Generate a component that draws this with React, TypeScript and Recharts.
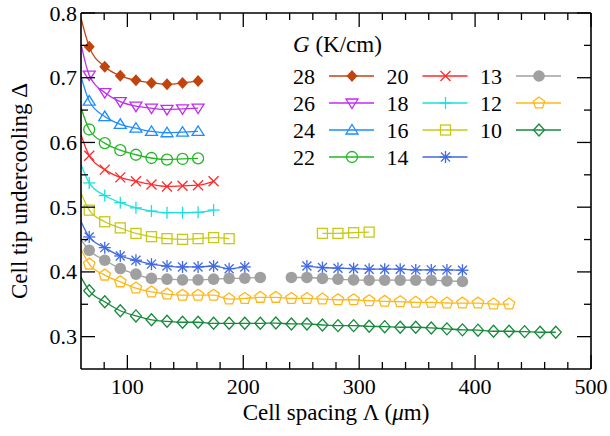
import React from 'react';
import { LineChart, Line, XAxis, YAxis, Legend } from 'recharts';

const FONT = 'Liberation Serif, Times New Roman, Times, serif';
const txt = { fontFamily: FONT };

// cell spacing values used by the simulations (um)
const lambda = [
  67.1, 80.5, 93.9, 107.4, 120.8, 134.2, 147.6, 161.0, 174.4, 187.8, 201.3, 214.7, 228.1, 241.5, 254.9, 268.3,
  281.7, 295.2, 308.6, 322.0, 335.4, 348.8, 362.2, 375.7, 389.1, 402.5, 415.9, 429.3, 442.7, 456.1, 469.6,
];

const xTicks = [80, 100, 120, 140, 160, 180, 200, 220, 240, 260, 280, 300, 320, 340, 360, 380, 400, 420, 440, 460, 480, 500];
const yTicks = [0.3, 0.35, 0.4, 0.45, 0.5, 0.55, 0.6, 0.65, 0.7, 0.75, 0.8];

// fitted curves start at the left edge of the plot
const fitStartX = 60;

// tip undercooling per gradient G (K/cm)
const g28 = [0.748, 0.717, 0.703, 0.696, 0.692, 0.69, 0.692, 0.695];
const g26 = [0.704, 0.677, 0.663, 0.656, 0.653, 0.651, 0.652, 0.653];
const g24 = [0.664, 0.64, 0.628, 0.622, 0.617, 0.615, 0.616, 0.617];
const g22 = [0.62, 0.599, 0.588, 0.581, 0.576, 0.5735, 0.5745, 0.5755];
const g20 = [0.5795, 0.558, 0.546, 0.54, 0.535, 0.532, 0.533, 0.534, 0.54];
const g18 = [0.5375, 0.518, 0.507, 0.499, 0.494, 0.4915, 0.4915, 0.492, 0.4955];
const g16a = [0.4954, 0.4775, 0.468, 0.4595, 0.4545, 0.4514, 0.4503, 0.4514, 0.453, 0.4514];
const g16b = [0.4595, 0.4595, 0.4606, 0.4615];
const g14a = [0.454, 0.4375, 0.4246, 0.418, 0.412, 0.409, 0.4077, 0.4077, 0.409, 0.405, 0.4077];
const g14b = [0.409, 0.4068, 0.4057, 0.4052, 0.4042, 0.4042, 0.4042, 0.4031, 0.4031, 0.4031, 0.4026];
const g13a = [0.4334, 0.418, 0.4052, 0.3965, 0.39, 0.3888, 0.3877, 0.3877, 0.3888, 0.39, 0.3903, 0.3914];
const g13b = [0.3914, 0.3914, 0.39, 0.3888, 0.3877, 0.3872, 0.3872, 0.3872, 0.3872, 0.3872, 0.386, 0.3852];
const g12 = [
  0.412, 0.395, 0.3846, 0.375, 0.369, 0.3657, 0.364, 0.364, 0.364, 0.358, 0.359, 0.3606, 0.3606, 0.359,
  0.359, 0.358, 0.357, 0.357, 0.3555, 0.3545, 0.354, 0.353, 0.353, 0.352, 0.3518, 0.3518, 0.3503, 0.3503,
];
const g10 = [
  0.3708, 0.3538, 0.34, 0.332, 0.326, 0.3237, 0.3222, 0.3222, 0.3206, 0.3206, 0.3206, 0.3206, 0.321, 0.3196,
  0.3196, 0.318, 0.317, 0.317, 0.316, 0.3154, 0.3145, 0.3145, 0.3134, 0.312, 0.3105, 0.31, 0.3083, 0.3083,
  0.3077, 0.3068, 0.3068,
];

type Pt = { x: number; y: number; fit?: boolean };

// first = index into lambda, start = value of the fit curve at the left edge
const seg = (first: number, values: number[], start?: number): Pt[] => {
  const pts = values.map((y, i) => ({ x: lambda[first + i], y }));
  return start === undefined ? pts : [{ x: fitStartX, y: start, fit: true }, ...pts];
};

const series = [
  { name: '28', color: '#c1440e', shape: 'diamondFilled', parts: [seg(0, g28, 0.792)] },
  { name: '26', color: '#c02cf0', shape: 'triDown', parts: [seg(0, g26, 0.752)] },
  { name: '24', color: '#1e8cff', shape: 'triUp', parts: [seg(0, g24, 0.702)] },
  { name: '22', color: '#22b822', shape: 'circle', parts: [seg(0, g22, 0.654)] },
  { name: '20', color: '#ff2a2a', shape: 'cross', parts: [seg(0, g20, 0.612)] },
  { name: '18', color: '#1ae0e0', shape: 'plus', parts: [seg(0, g18, 0.566)] },
  { name: '16', color: '#c8c818', shape: 'square', parts: [seg(0, g16a, 0.522), seg(15, g16b)] },
  { name: '14', color: '#4169e1', shape: 'star', parts: [seg(0, g14a, 0.478), seg(14, g14b)] },
  { name: '13', color: '#a0a0a0', shape: 'circleFilled', parts: [seg(0, g13a, 0.45), seg(13, g13b)] },
  { name: '12', color: '#ffb71a', shape: 'pentagon', parts: [seg(0, g12, 0.435)] },
  { name: '10', color: '#178a3c', shape: 'diamond', parts: [seg(0, g10, 0.392)] },
];

const legendCols = [['28', '26', '24', '22'], ['20', '18', '16', '14'], ['13', '12', '10']];

const Marker = ({ shape, cx, cy, color }: { shape: string; cx: number; cy: number; color: string }) => {
  const sw = 1.3;
  const open = { fill: 'none', stroke: color, strokeWidth: sw };
  switch (shape) {
    case 'diamondFilled':
      return <polygon points={`${cx},${cy - 6} ${cx + 5.5},${cy} ${cx},${cy + 6} ${cx - 5.5},${cy}`} fill={color} />;
    case 'diamond':
      return <polygon points={`${cx},${cy - 6} ${cx + 5.5},${cy} ${cx},${cy + 6} ${cx - 5.5},${cy}`} {...open} />;
    case 'triDown':
      return <polygon points={`${cx - 6},${cy - 4} ${cx + 6},${cy - 4} ${cx},${cy + 5.5}`} {...open} />;
    case 'triUp':
      return <polygon points={`${cx - 6},${cy + 4} ${cx + 6},${cy + 4} ${cx},${cy - 5.5}`} {...open} />;
    case 'circle':
      return <circle cx={cx} cy={cy} r={5.5} {...open} />;
    case 'circleFilled':
      return <circle cx={cx} cy={cy} r={5.8} fill={color} />;
    case 'square':
      return <rect x={cx - 5} y={cy - 5} width={10} height={10} {...open} />;
    case 'cross':
      return (
        <g stroke={color} strokeWidth={sw}>
          <line x1={cx - 5} y1={cy - 5} x2={cx + 5} y2={cy + 5} />
          <line x1={cx - 5} y1={cy + 5} x2={cx + 5} y2={cy - 5} />
        </g>
      );
    case 'plus':
      return (
        <g stroke={color} strokeWidth={sw}>
          <line x1={cx - 6} y1={cy} x2={cx + 6} y2={cy} />
          <line x1={cx} y1={cy - 6} x2={cx} y2={cy + 6} />
        </g>
      );
    case 'star':
      return (
        <g stroke={color} strokeWidth={sw}>
          <line x1={cx - 6} y1={cy} x2={cx + 6} y2={cy} />
          <line x1={cx} y1={cy - 6} x2={cx} y2={cy + 6} />
          <line x1={cx - 4.5} y1={cy - 4.5} x2={cx + 4.5} y2={cy + 4.5} />
          <line x1={cx - 4.5} y1={cy + 4.5} x2={cx + 4.5} y2={cy - 4.5} />
        </g>
      );
    case 'pentagon': {
      const pts = [0, 1, 2, 3, 4]
        .map((i) => {
          const a = (-90 + 72 * i) * (Math.PI / 180);
          return `${cx + 6 * Math.cos(a)},${cy + 6 * Math.sin(a)}`;
        })
        .join(' ');
      return <polygon points={pts} {...open} />;
    }
    default:
      return null;
  }
};

const isMajorY = (v: number) => Math.abs(v * 10 - Math.round(v * 10)) < 1e-6;

const BottomTick = ({ x, y, payload }: any) => {
  const major = payload.value % 100 === 0;
  return (
    <g>
      <line x1={x} y1={y} x2={x} y2={y - (major ? 14 : 7)} stroke="#000" strokeWidth={1.3} />
      {major && (
        <text x={x} y={y + 25} textAnchor="middle" style={txt} fontSize={22} fill="#000">
          {payload.value}
        </text>
      )}
    </g>
  );
};

const TopTick = ({ x, y, payload }: any) => {
  const major = payload.value % 100 === 0;
  return <line x1={x} y1={y} x2={x} y2={y + (major ? 14 : 7)} stroke="#000" strokeWidth={1.3} />;
};

const LeftTick = ({ x, y, payload }: any) => {
  const major = isMajorY(payload.value);
  return (
    <g>
      <line x1={x} y1={y} x2={x + (major ? 14 : 7)} y2={y} stroke="#000" strokeWidth={1.3} />
      {major && (
        <text x={x - 4} y={y + 7.5} textAnchor="end" style={txt} fontSize={22} fill="#000">
          {payload.value.toFixed(1)}
        </text>
      )}
    </g>
  );
};

const RightTick = ({ x, y, payload }: any) => {
  const major = isMajorY(payload.value);
  return <line x1={x} y1={y} x2={x - (major ? 14 : 7)} y2={y} stroke="#000" strokeWidth={1.3} />;
};

const XTitle = ({ viewBox }: any) => (
  <text x={viewBox.x + viewBox.width / 2} y={viewBox.y + 51} textAnchor="middle" style={txt} fontSize={23} fill="#000">
    Cell spacing Λ (<tspan fontStyle="italic">μ</tspan>m)
  </text>
);

const YTitle = ({ viewBox }: any) => {
  const cx = 27;
  const cy = viewBox.y + viewBox.height / 2;
  return (
    <text x={cx} y={cy} transform={`rotate(-90 ${cx} ${cy})`} textAnchor="middle" style={txt} fontSize={23} fill="#000">
      Cell tip undercooling Δ
    </text>
  );
};

const LegendBox = () => (
  <svg width={310} height={150} style={{ overflow: 'visible', display: 'block' }}>
    <text x={13} y={27} style={txt} fontSize={23} fill="#000">
      <tspan fontStyle="italic">G</tspan> (K/cm)
    </text>
    {legendCols.map((col, ci) =>
      col.map((name, ri) => {
        const s = series.find((d) => d.name === name)!;
        const tx = 13 + ci * 93.5;
        const cy = 51 + ri * 27;
        return (
          <g key={name}>
            <text x={tx} y={cy + 7.5} style={txt} fontSize={22} fill="#000">
              {name}
            </text>
            <line x1={tx + 36} y1={cy} x2={tx + 81} y2={cy} stroke={s.color} strokeWidth={1.3} />
            <Marker shape={s.shape} cx={tx + 59} cy={cy} color={s.color} />
          </g>
        );
      })
    )}
  </svg>
);

export default function App() {
  return (
    <div style={{ position: 'absolute', left: 0, top: 0, background: '#fff', fontFamily: FONT }}>
      <LineChart width={610} height={436} margin={{ top: 12, right: 18, bottom: 27, left: 21 }} style={txt}>
        <XAxis
          xAxisId="b"
          type="number"
          dataKey="x"
          domain={[60, 500]}
          ticks={xTicks}
          interval={0}
          allowDataOverflow
          height={40}
          tickSize={0}
          tickMargin={0}
          tickLine={false}
          axisLine={{ stroke: '#000', strokeWidth: 1.6 }}
          tick={(p: any) => <BottomTick {...p} />}
          label={{ content: (p: any) => <XTitle {...p} /> }}
        />
        <XAxis
          xAxisId="t"
          orientation="top"
          type="number"
          dataKey="x"
          domain={[60, 500]}
          ticks={xTicks}
          interval={0}
          allowDataOverflow
          height={1}
          tickSize={0}
          tickMargin={0}
          tickLine={false}
          axisLine={{ stroke: '#000', strokeWidth: 1.6 }}
          tick={(p: any) => <TopTick {...p} />}
        />
        <YAxis
          yAxisId="l"
          type="number"
          dataKey="y"
          domain={[0.25, 0.8]}
          ticks={yTicks}
          interval={0}
          allowDataOverflow
          width={60}
          tickSize={0}
          tickMargin={0}
          tickLine={false}
          axisLine={{ stroke: '#000', strokeWidth: 1.6 }}
          tick={(p: any) => <LeftTick {...p} />}
          label={{ content: (p: any) => <YTitle {...p} /> }}
        />
        <YAxis
          yAxisId="r"
          orientation="right"
          type="number"
          dataKey="y"
          domain={[0.25, 0.8]}
          ticks={yTicks}
          interval={0}
          allowDataOverflow
          width={1}
          tickSize={0}
          tickMargin={0}
          tickLine={false}
          axisLine={{ stroke: '#000', strokeWidth: 1.6 }}
          tick={(p: any) => <RightTick {...p} />}
        />
        {series.map((s) =>
          s.parts.map((part, pi) => (
            <Line
              key={`${s.name}-${pi}`}
              data={part}
              dataKey="y"
              xAxisId="b"
              yAxisId="l"
              type="monotone"
              stroke={s.color}
              strokeWidth={1.3}
              activeDot={false}
              legendType="none"
              isAnimationActive={false}
              dot={(p: any) =>
                p.payload.fit ? (
                  <g key={`d${pi}-${p.index}`} />
                ) : (
                  <Marker key={`d${pi}-${p.index}`} shape={s.shape} cx={p.cx} cy={p.cy} color={s.color} />
                )
              }
            />
          ))
        )}
        <Legend
          layout="vertical"
          align="center"
          verticalAlign="middle"
          wrapperStyle={{ left: 280, top: 25, width: 310, height: 150 }}
          content={() => <LegendBox />}
        />
      </LineChart>
    </div>
  );
}
